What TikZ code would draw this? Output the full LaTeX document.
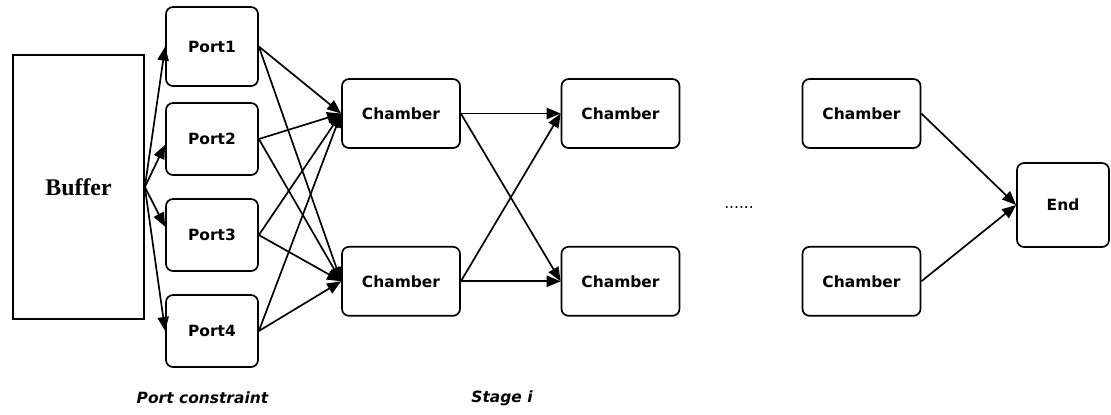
\documentclass[tikz,border=0pt]{standalone}
\usepackage{fontspec}
\setmainfont{Liberation Serif}
\setsansfont{DejaVu Sans}
\usetikzlibrary{arrows.meta}

\begin{document}
\begin{tikzpicture}[
    >={Triangle[length=10pt,width=8pt]},
    line width=1.2pt,
    boxnode/.style={rectangle, rounded corners=5pt, draw=black, line width=1.2pt, minimum width=2.3cm, minimum height=1.8cm, inner sep=2pt, font=\sffamily\bfseries\fontsize{11}{13}\selectfont},
    chambernode/.style={boxnode, minimum width=2.95cm, minimum height=1.725cm},
    bufnode/.style={rectangle, draw=black, line width=1.2pt, minimum width=3.275cm, minimum height=6.6cm, font=\bfseries\fontsize{17}{20}\selectfont},
    labelnode/.style={font=\sffamily\bfseries\itshape\fontsize{11}{13}\selectfont}
    ]
    \useasboundingbox (0,0) rectangle (27.775,-10.35);

    \node [bufnode] (buf) at (1.9625,-4.675) {Buffer};

    \node [boxnode,minimum height=1.975cm] (p1) at (5.3,-1.1625) {Port1};
    \node [boxnode] (p2) at (5.3,-3.475) {Port2};
    \node [boxnode] (p3) at (5.3,-5.875) {Port3};
    \node [boxnode] (p4) at (5.3,-8.275) {Port4};

    \node [chambernode] (c1) at (10.025,-2.8375) {Chamber};
    \node [chambernode] (c2) at (10.025,-7.0325) {Chamber};

    \node [chambernode] (d1) at (15.5125,-2.8375) {Chamber};
    \node [chambernode] (d2) at (15.5125,-7.0325) {Chamber};

    \node [font=\sffamily\fontsize{11}{13}\selectfont] (dots) at (18.475,-5.2) {......};

    \node [chambernode] (e1) at (21.5375,-2.8375) {Chamber};
    \node [chambernode] (e2) at (21.5375,-7.0325) {Chamber};

    \node [boxnode,minimum height=2.1cm] (end) at (26.575,-5.125) {End};

    \node [labelnode] (lport) at (5.0625,-9.95) {Port constraint};
    \node [labelnode] (lstage) at (12.55,-9.95) {Stage i};

    % buffer to ports
    \draw [->] (buf.east) -- (p1.west);
    \draw [->] (buf.east) -- (p2.187);
    \draw [->] (buf.east) -- (p3.170);
    \draw [->] (buf.east) -- (p4.west);

    % ports to first chambers
    \draw [->] (p1.east) -- (c1.west);
    \draw [->] (p1.east) -- (c2.west);
    \draw [->] (p2.east) -- (c1.west);
    \draw [->] (p2.east) -- (c2.west);
    \draw [->] (p3.east) -- (c1.west);
    \draw [->] (p3.east) -- (c2.west);
    \draw [->] (p4.east) -- (c1.west);
    \draw [->] (p4.east) -- (c2.west);

    % stage i
    \draw [->] (c1.east) -- (d1.west);
    \draw [->] (c1.east) -- (d2.west);
    \draw [->] (c2.east) -- (d1.west);
    \draw [->] (c2.east) -- (d2.west);

    \draw [->] (e1.east) -- (end.west);
    \draw [->] (e2.east) -- (end.west);
\end{tikzpicture}
\end{document}
